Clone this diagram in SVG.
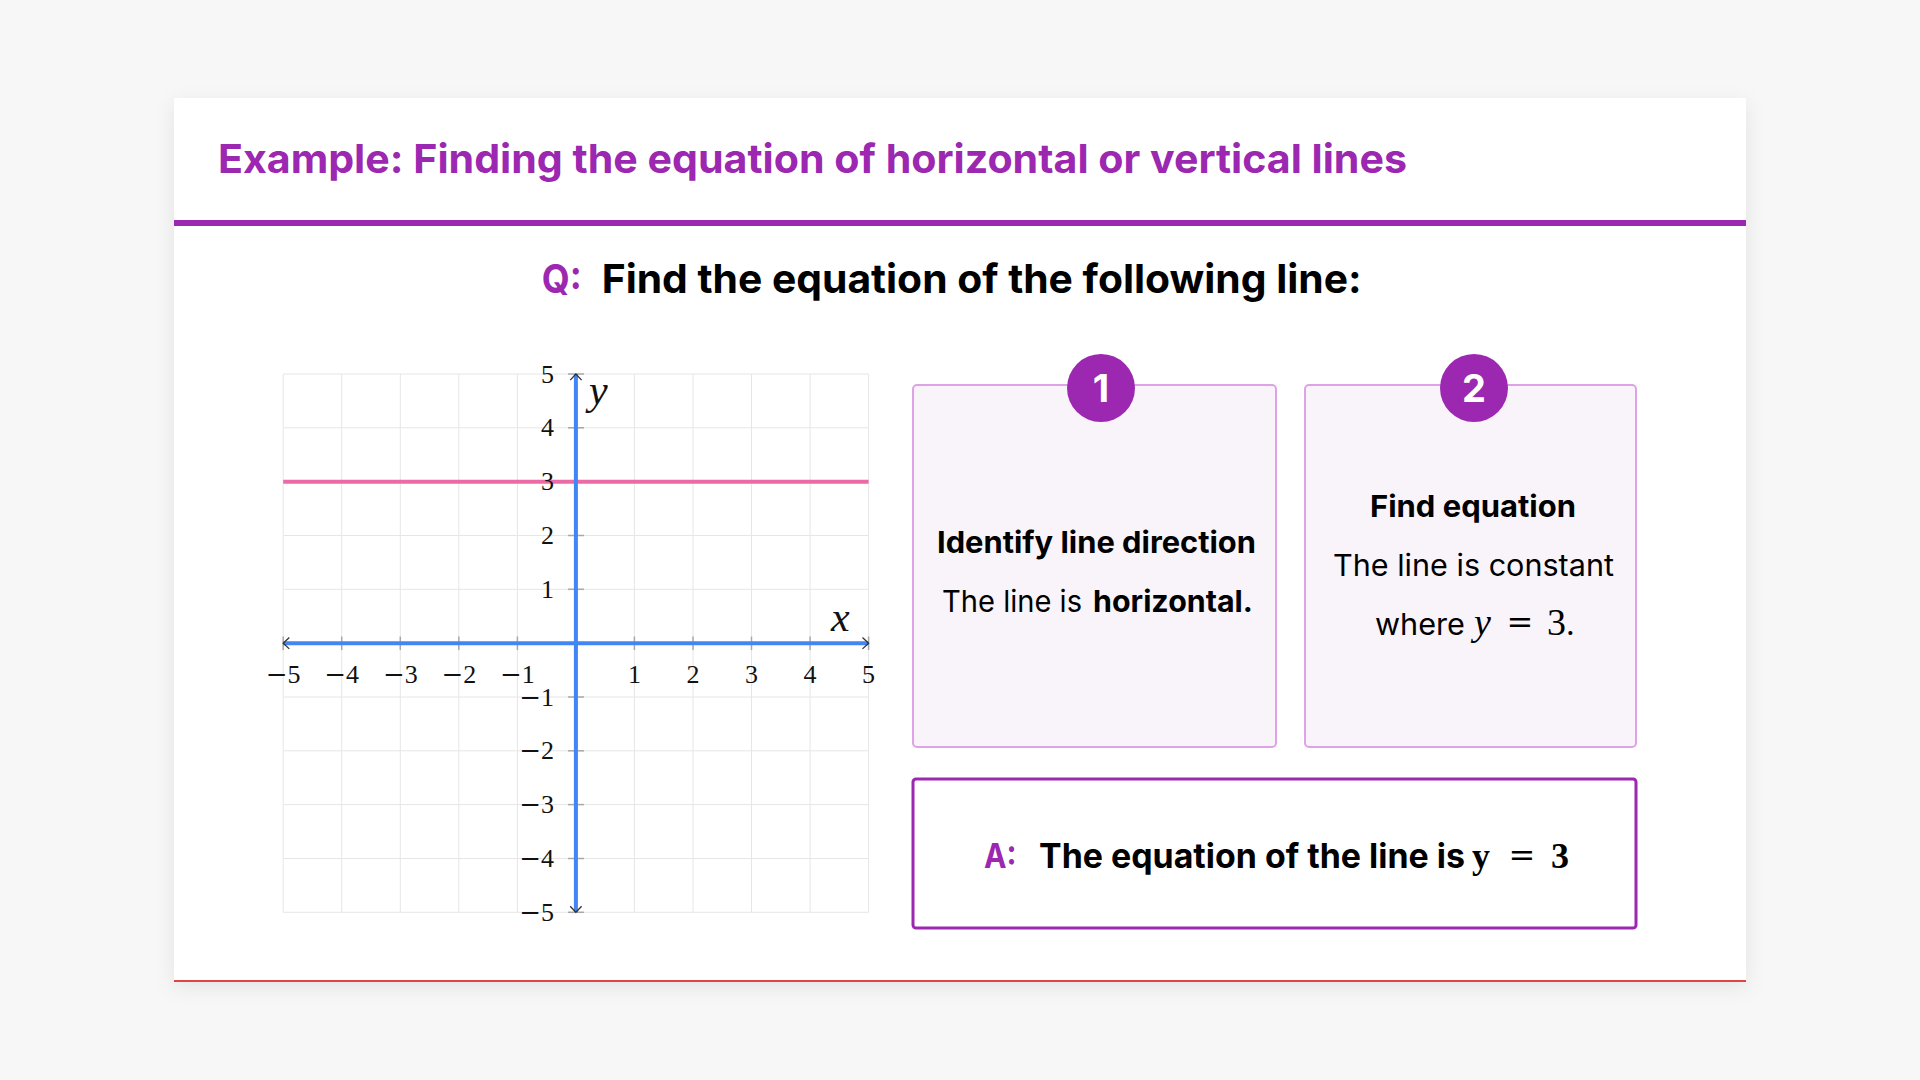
<svg xmlns="http://www.w3.org/2000/svg" width="1920" height="1080" viewBox="0 0 1920 1080">
<defs>
<filter id="shadow" x="-5%" y="-5%" width="110%" height="115%">
<feDropShadow dx="0" dy="6" stdDeviation="10" flood-color="#000" flood-opacity="0.08"/>
</filter>
<style>
.sans{font-family:Inter,"Noto Sans","Liberation Sans",sans-serif}
.b{font-weight:700}
.math{font-family:"Liberation Serif","DejaVu Serif",serif}
.eq{font-family:"DejaVu Serif","Liberation Serif",serif}
.tick{font-family:"Liberation Serif","DejaVu Serif",serif;font-size:26px;fill:#111}
.m{font-family:"DejaVu Serif","Liberation Serif",serif;font-weight:300}
.grid line{stroke:#E6E6E6;stroke-width:1}
.ticks line{stroke:#A8A8A8;stroke-width:1.5}
.arrow{fill:none;stroke:#333;stroke-width:1.3}
.stepbox{fill:#F9F4FA;stroke:#DDA3E6;stroke-width:2}
.badge{fill:#9C27B0}
.badgetxt{font-family:Inter,"Noto Sans",sans-serif;font-weight:700;font-size:38px;fill:#fff}
</style>
</defs>
<rect x="0" y="0" width="1920" height="1080" fill="#F7F7F7"/>
<g id="card">
<rect x="174" y="98" width="1572" height="883" fill="#fff" filter="url(#shadow)"/>
<rect x="174" y="980" width="1572" height="2" fill="#E04545"/>
</g>
<g id="title">
<text class="sans b" x="218" y="173" font-size="40" fill="#9C27B0" textLength="1189" lengthAdjust="spacingAndGlyphs">Example: Finding the equation of horizontal or vertical lines</text>
<rect x="174" y="220" width="1572" height="6" fill="#9C27B0"/>
</g>
<g id="question">
<text class="sans b" x="541.7" y="293" font-size="40" fill="#9C27B0" textLength="40" lengthAdjust="spacingAndGlyphs">Q:</text>
<text class="sans b" x="601.7" y="293" font-size="40" fill="#000" textLength="760" lengthAdjust="spacingAndGlyphs">Find the equation of the following line:</text>
</g>
<g id="graph">
<g class="grid">
<line x1="283.2" y1="374" x2="283.2" y2="912.3"/>
<line x1="341.7" y1="374" x2="341.7" y2="912.3"/>
<line x1="400.3" y1="374" x2="400.3" y2="912.3"/>
<line x1="458.8" y1="374" x2="458.8" y2="912.3"/>
<line x1="517.4" y1="374" x2="517.4" y2="912.3"/>
<line x1="634.4" y1="374" x2="634.4" y2="912.3"/>
<line x1="693.0" y1="374" x2="693.0" y2="912.3"/>
<line x1="751.5" y1="374" x2="751.5" y2="912.3"/>
<line x1="810.1" y1="374" x2="810.1" y2="912.3"/>
<line x1="868.6" y1="374" x2="868.6" y2="912.3"/>
<line x1="283.2" y1="374.0" x2="868.6" y2="374.0"/>
<line x1="283.2" y1="427.8" x2="868.6" y2="427.8"/>
<line x1="283.2" y1="481.7" x2="868.6" y2="481.7"/>
<line x1="283.2" y1="535.5" x2="868.6" y2="535.5"/>
<line x1="283.2" y1="589.3" x2="868.6" y2="589.3"/>
<line x1="283.2" y1="697.0" x2="868.6" y2="697.0"/>
<line x1="283.2" y1="750.8" x2="868.6" y2="750.8"/>
<line x1="283.2" y1="804.6" x2="868.6" y2="804.6"/>
<line x1="283.2" y1="858.5" x2="868.6" y2="858.5"/>
<line x1="283.2" y1="912.3" x2="868.6" y2="912.3"/>
</g>
<g class="ticks">
<line x1="283.2" y1="636.5" x2="283.2" y2="650"/>
<line x1="341.7" y1="636.5" x2="341.7" y2="650"/>
<line x1="400.3" y1="636.5" x2="400.3" y2="650"/>
<line x1="458.8" y1="636.5" x2="458.8" y2="650"/>
<line x1="517.4" y1="636.5" x2="517.4" y2="650"/>
<line x1="634.4" y1="636.5" x2="634.4" y2="650"/>
<line x1="693.0" y1="636.5" x2="693.0" y2="650"/>
<line x1="751.5" y1="636.5" x2="751.5" y2="650"/>
<line x1="810.1" y1="636.5" x2="810.1" y2="650"/>
<line x1="868.6" y1="636.5" x2="868.6" y2="650"/>
<line x1="568" y1="374.0" x2="584" y2="374.0"/>
<line x1="568" y1="427.8" x2="584" y2="427.8"/>
<line x1="568" y1="481.7" x2="584" y2="481.7"/>
<line x1="568" y1="535.5" x2="584" y2="535.5"/>
<line x1="568" y1="589.3" x2="584" y2="589.3"/>
<line x1="568" y1="697.0" x2="584" y2="697.0"/>
<line x1="568" y1="750.8" x2="584" y2="750.8"/>
<line x1="568" y1="804.6" x2="584" y2="804.6"/>
<line x1="568" y1="858.5" x2="584" y2="858.5"/>
<line x1="568" y1="912.3" x2="584" y2="912.3"/>
</g>
<line x1="283.2" y1="481.7" x2="868.6" y2="481.7" stroke="#EC6AA6" stroke-width="4"/>
<line x1="283.2" y1="643.2" x2="868.6" y2="643.2" stroke="#4285F4" stroke-width="4"/>
<line x1="575.9" y1="374" x2="575.9" y2="912.3" stroke="#4285F4" stroke-width="4"/>
<path class="arrow" d="M862.5,637.5 L868.6,643.2 L862.5,648.9"/>
<path class="arrow" d="M289.3,637.5 L283.2,643.2 L289.3,648.9"/>
<path class="arrow" d="M570.2,380.1 L575.9,374 L581.6,380.1"/>
<path class="arrow" d="M570.2,906.2 L575.9,912.3 L581.6,906.2"/>
<g text-anchor="middle">
<text class="tick" x="283.2" y="683"><tspan class="m">−</tspan>5</text>
<text class="tick" x="341.7" y="683"><tspan class="m">−</tspan>4</text>
<text class="tick" x="400.3" y="683"><tspan class="m">−</tspan>3</text>
<text class="tick" x="458.8" y="683"><tspan class="m">−</tspan>2</text>
<text class="tick" x="517.4" y="683"><tspan class="m">−</tspan>1</text>
<text class="tick" x="634.4" y="683">1</text>
<text class="tick" x="693.0" y="683">2</text>
<text class="tick" x="751.5" y="683">3</text>
<text class="tick" x="810.1" y="683">4</text>
<text class="tick" x="868.6" y="683">5</text>
</g>
<g text-anchor="end">
<text class="tick" x="554" y="382.5">5</text>
<text class="tick" x="554" y="436.3">4</text>
<text class="tick" x="554" y="490.2">3</text>
<text class="tick" x="554" y="544">2</text>
<text class="tick" x="554" y="597.8">1</text>
<text class="tick" x="554" y="706"><tspan class="m">−</tspan>1</text>
<text class="tick" x="554" y="759.3"><tspan class="m">−</tspan>2</text>
<text class="tick" x="554" y="813.1"><tspan class="m">−</tspan>3</text>
<text class="tick" x="554" y="867"><tspan class="m">−</tspan>4</text>
<text class="tick" x="554" y="920.8"><tspan class="m">−</tspan>5</text>
</g>
<text class="math" x="831" y="631" font-size="42" font-style="italic" fill="#111">x</text>
<text class="math" x="589" y="404" font-size="42" font-style="italic" fill="#111">y</text>
</g>
<g id="step1">
<rect class="stepbox" x="913" y="385" width="363" height="362" rx="4"/>
<circle class="badge" cx="1101" cy="388" r="34"/>
<text class="badgetxt" x="1101" y="402" text-anchor="middle">1</text>
<text class="sans b" x="937" y="553" font-size="30" fill="#000" textLength="319" lengthAdjust="spacingAndGlyphs">Identify line direction</text>
<text class="sans" x="942" y="612" font-size="30" fill="#000" textLength="140" lengthAdjust="spacingAndGlyphs">The line is</text>
<text class="sans b" x="1093" y="612" font-size="30" fill="#000" textLength="160" lengthAdjust="spacingAndGlyphs">horizontal.</text>
</g>
<g id="step2">
<rect class="stepbox" x="1305" y="385" width="331" height="362" rx="4"/>
<circle class="badge" cx="1474" cy="388" r="34"/>
<text class="badgetxt" x="1474" y="402" text-anchor="middle">2</text>
<text class="sans b" x="1370" y="517" font-size="30" fill="#000" textLength="206" lengthAdjust="spacingAndGlyphs">Find equation</text>
<text class="sans" x="1333" y="576" font-size="30" fill="#000" textLength="281" lengthAdjust="spacingAndGlyphs">The line is constant</text>
<text class="sans" x="1375" y="635" font-size="30" fill="#000" textLength="90" lengthAdjust="spacingAndGlyphs">where</text>
<text class="math" x="1474" y="635" font-size="38" font-style="italic" fill="#000">y</text>
<text class="eq" x="1520" y="633" font-size="32" fill="#000" text-anchor="middle">=</text>
<text class="math" x="1556.5" y="635" font-size="38" fill="#000" text-anchor="middle">3</text>
<text class="sans" x="1566" y="635" font-size="30" fill="#000">.</text>
</g>
<g id="answer">
<rect x="913" y="779" width="723" height="149" rx="3" fill="#fff" stroke="#9C27B0" stroke-width="3"/>
<text class="sans b" x="984" y="868" font-size="34" fill="#9C27B0" textLength="32.6" lengthAdjust="spacingAndGlyphs">A:</text>
<text class="sans b" x="1039" y="868" font-size="34" fill="#000" textLength="426" lengthAdjust="spacingAndGlyphs">The equation of the line is</text>
<text class="math b" x="1472" y="868" font-size="36" fill="#000">y</text>
<text class="eq" x="1522" y="866" font-size="32" fill="#000" text-anchor="middle">=</text>
<text class="math b" x="1560" y="868" font-size="36" fill="#000" text-anchor="middle">3</text>
</g>
<g id="connectors"/>
</svg>
